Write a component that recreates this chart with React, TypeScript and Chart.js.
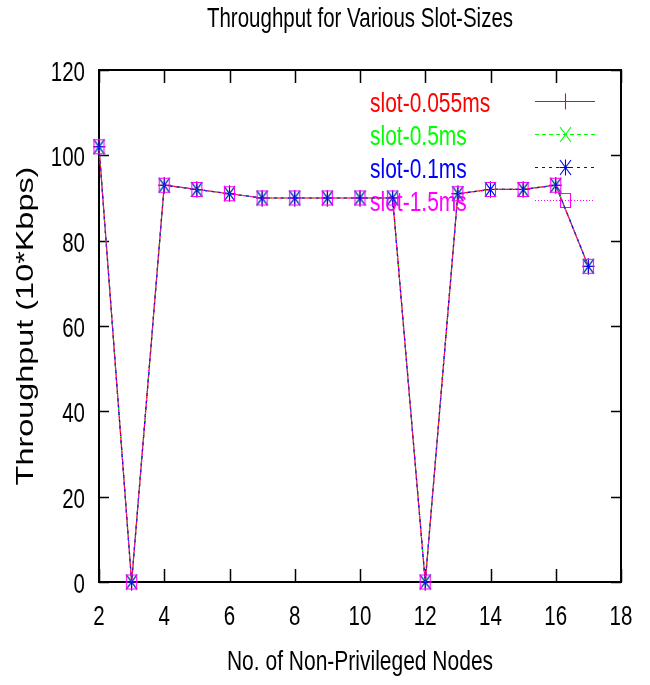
import React, { useEffect, useRef } from 'react';
import { Chart, registerables } from 'chart.js';

Chart.register(...registerables);

// ---- data ----
const nodes = [2, 3, 4, 5, 6, 7, 8, 9, 10, 11, 12, 13, 14, 15, 16, 17];
const slot0055ms = [102, 0, 93, 92, 91, 90, 90, 90, 90, 90, 0, 91, 92, 92, 93, 74];
const slot05ms = [102, 0, 93, 92, 91, 90, 90, 90, 90, 90, 0, 91, 92, 92, 93, 74];
const slot01ms = [102, 0, 93, 92, 91, 90, 90, 90, 90, 90, 0, 91, 92, 92, 93, 74];
const slot15ms = [102, 0, 93, 92, 91, 90, 90, 90, 90, 90, 0, 91, 92, 92, 93, 74];
const seriesNames = ['slot-0.055ms', 'slot-0.5ms', 'slot-0.1ms', 'slot-1.5ms'];
const seriesColors = ['#ff0000', '#00ff00', '#0000ff', '#ff00ff'];
const seriesDashes = [[], [4, 3], [3, 4], [1, 2]];
const markerKinds = ['plus', 'cross', 'star', 'square'];
const xTickValues = [2, 4, 6, 8, 10, 12, 14, 16, 18];
const yTickValues = [0, 20, 40, 60, 80, 100, 120];
const titleText = 'Throughput for Various Slot-Sizes';
const xTitleText = 'No. of Non-Privileged Nodes';
const yTitleText = 'Throughput (10*Kbps)';

const FAMILY = "'Liberation Sans', Arial, Helvetica, sans-serif";
const STRETCH = 1.35; // the reference's lettering is tall and narrow

function makeMarker(kind: string, color: string): HTMLCanvasElement {
  const c = document.createElement('canvas');
  c.width = 13;
  c.height = 17;
  const g = c.getContext('2d')!;
  g.strokeStyle = color;
  g.lineWidth = 1.1;
  g.beginPath();
  if (kind === 'plus' || kind === 'star') {
    g.moveTo(6.5, 0.5);
    g.lineTo(6.5, 16.5);
    g.moveTo(0.5, 8.5);
    g.lineTo(12.5, 8.5);
  }
  if (kind === 'cross' || kind === 'star') {
    g.moveTo(1, 1);
    g.lineTo(12, 16);
    g.moveTo(12, 1);
    g.lineTo(1, 16);
  }
  if (kind === 'square') {
    g.rect(1.5, 1.5, 10, 14);
  }
  g.stroke();
  return c;
}

function tallText(
  ctx: CanvasRenderingContext2D,
  text: string,
  x: number,
  baseline: number,
  size: number,
  align: CanvasTextAlign,
  color: string,
  rotated = false
) {
  ctx.save();
  ctx.translate(x, baseline);
  ctx.scale(1, STRETCH);
  if (rotated) ctx.rotate(-Math.PI / 2);
  ctx.font = `${size}px ${FAMILY}`;
  ctx.textAlign = align;
  ctx.textBaseline = 'alphabetic';
  ctx.fillStyle = color;
  ctx.fillText(text, 0, 0);
  ctx.restore();
}

export default function App() {
  const canvasRef = useRef<HTMLCanvasElement | null>(null);

  useEffect(() => {
    const canvas = canvasRef.current;
    if (!canvas) return;
    const markers = markerKinds.map((k, i) => makeMarker(k, seriesColors[i]));
    const seriesValues = [slot0055ms, slot05ms, slot01ms, slot15ms];

    const frameKeyTexts = {
      id: 'frameKeyTexts',
      beforeDatasetsDraw(chart: any) {
        const { ctx, chartArea: a, scales } = chart;
        const xs = scales.x;
        const ys = scales.y;
        ctx.save();
        // inward tick marks (mirrored)
        ctx.strokeStyle = '#000';
        ctx.lineWidth = 1.5;
        ctx.beginPath();
        xs.ticks.forEach((t: any) => {
          const px = Math.round(xs.getPixelForValue(t.value)) + 0.5;
          ctx.moveTo(px, a.bottom);
          ctx.lineTo(px, a.bottom - 13);
          ctx.moveTo(px, a.top);
          ctx.lineTo(px, a.top + 13);
        });
        ys.ticks.forEach((t: any) => {
          const py = Math.round(ys.getPixelForValue(t.value)) + 0.5;
          ctx.moveTo(a.left, py);
          ctx.lineTo(a.left + 10, py);
          ctx.moveTo(a.right, py);
          ctx.lineTo(a.right - 10, py);
        });
        ctx.stroke();
        ctx.lineWidth = 2;
        ctx.strokeRect(a.left, a.top, a.right - a.left, a.bottom - a.top);

        // tick labels
        xs.ticks.forEach((t: any) => {
          tallText(ctx, String(t.value), xs.getPixelForValue(t.value), a.bottom + 43, 20.5, 'center', '#000');
        });
        ys.ticks.forEach((t: any) => {
          tallText(ctx, String(t.value), a.left - 14, ys.getPixelForValue(t.value) + 11, 20.5, 'right', '#000');
        });

        // titles
        const cx = (a.left + a.right) / 2;
        tallText(ctx, titleText, cx, 27, 20.5, 'center', '#000');
        tallText(ctx, xTitleText, cx, 670, 21, 'center', '#000');
        tallText(ctx, yTitleText, 33, (a.top + a.bottom) / 2, 24, 'center', '#000', true);

        // key
        seriesNames.forEach((name, i) => {
          const base = a.top + 42 + i * 33;
          tallText(ctx, name, 370, base, 21, 'left', seriesColors[i]);
          const ly = Math.round(base - 11) + 0.5;
          ctx.strokeStyle = seriesColors[i];
          ctx.lineWidth = 1.2;
          ctx.setLineDash(seriesDashes[i]);
          ctx.beginPath();
          ctx.moveTo(535, ly);
          ctx.lineTo(595, ly);
          ctx.stroke();
          ctx.setLineDash([]);
          const m = markers[i];
          ctx.drawImage(m, Math.round(565 - m.width / 2), Math.round(ly - m.height / 2));
        });
        ctx.restore();
      },
    };

    const chart = new Chart(canvas, {
      type: 'line',
      data: {
        labels: nodes,
        datasets: seriesNames.map((name, i) => ({
          label: name,
          data: nodes.map((n, j) => ({ x: n, y: seriesValues[i][j] })),
          borderColor: seriesColors[i],
          backgroundColor: 'transparent',
          borderWidth: 1.2,
          borderDash: seriesDashes[i],
          pointStyle: markers[i] as any,
          pointRadius: 6,
          tension: 0,
          clip: false as any,
          order: 3 - i,
        })),
      },
      options: {
        responsive: false,
        animation: false,
        devicePixelRatio: 1,
        layout: { padding: { left: 0, right: 29, top: 70, bottom: 0 } },
        plugins: {
          legend: { display: false },
          tooltip: { enabled: false },
          title: { display: false, text: titleText },
        },
        scales: {
          x: {
            type: 'linear',
            min: 2,
            max: 18,
            afterBuildTicks: (s: any) => {
              s.ticks = xTickValues.map((v) => ({ value: v }));
            },
            afterFit: (s: any) => {
              s.height = 103;
            },
            grid: { display: false, drawTicks: false },
            border: { display: false },
            ticks: { display: false },
            title: { display: false, text: xTitleText },
          },
          y: {
            type: 'linear',
            min: 0,
            max: 120,
            afterBuildTicks: (s: any) => {
              s.ticks = yTickValues.map((v) => ({ value: v }));
            },
            afterFit: (s: any) => {
              s.width = 99;
            },
            grid: { display: false, drawTicks: false },
            border: { display: false },
            ticks: { display: false },
            title: { display: false, text: yTitleText },
          },
        },
      },
      plugins: [frameKeyTexts],
    });

    return () => chart.destroy();
  }, []);

  return (
    <div style={{ position: 'fixed', left: 0, top: 0, width: 650, height: 685, background: '#fff' }}>
      <canvas ref={canvasRef} width={650} height={685} style={{ display: 'block' }} />
    </div>
  );
}
